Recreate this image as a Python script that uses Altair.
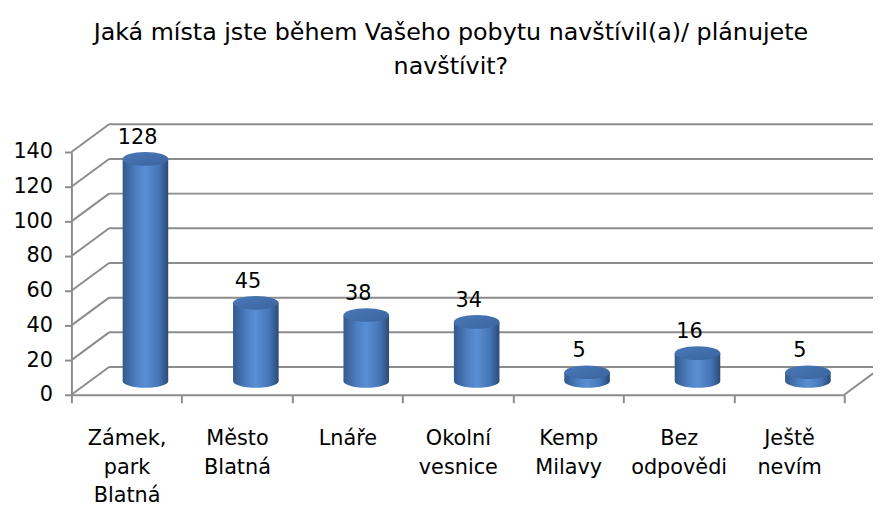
import altair as alt
import pandas as pd

# ---- data ----
categories = ["Zámek,|park|Blatná", "Město|Blatná", "Lnáře", "Okolní|vesnice",
              "Kemp|Milavy", "Bez|odpovědi", "Ještě|nevím"]
values = [128, 45, 38, 34, 5, 16, 5]
y_ticks = [0, 20, 40, 60, 80, 100, 120, 140]
title_lines = ["Jaká místa jste během Vašeho pobytu navštívil(a)/ plánujete", "navštívit?"]

df = pd.DataFrame({"cat": categories, "value": values, "zero": [0] * len(values)})
grid = pd.DataFrame({"v": y_ticks})
floor = pd.DataFrame({"v": [0]})

# ---- style ----
W, H = 780, 245
DX, DY = 38, -28          # depth of the 3D box
MX, MY = DX / 2, DY / 2   # bars sit in the middle of the depth
BW = 46
FONT = "DejaVu Sans"
GRID = "#8c8c8c"
ELL = "M-1,0A1,0.3,0,1,0,1,0A1,0.3,0,1,0,-1,0Z"

body = alt.Gradient(gradient="linear", x1=0, x2=1, y1=0, y2=0, stops=[
    alt.GradientStop(color="#34598d", offset=0),
    alt.GradientStop(color="#4d7fc2", offset=0.3),
    alt.GradientStop(color="#5a8fd5", offset=0.5),
    alt.GradientStop(color="#4474b4", offset=0.8),
    alt.GradientStop(color="#2b4a77", offset=1)])
cap = alt.Gradient(gradient="linear", x1=0, x2=1, y1=0, y2=1, stops=[
    alt.GradientStop(color="#4a78b8", offset=0),
    alt.GradientStop(color="#3a649e", offset=1)])

x_scale = alt.Scale(domain=categories, paddingInner=0, paddingOuter=0)
y_scale = alt.Scale(domain=[0, 140], nice=False, zero=True)

x_axis = alt.Axis(title=None, labelAngle=0,
                  labelExpr="isValid(datum.value) ? split(datum.value, '|') : ''",
                  labelLineHeight=29, labelPadding=25, labelBaseline="top",
                  labelFont=FONT, labelFontSize=21, labelColor="black",
                  tickBand="extent", tickSize=8, tickWidth=2, tickColor=GRID,
                  domainColor=GRID, domainWidth=2, grid=False)
y_axis = alt.Axis(title=None, values=y_ticks, labelFont=FONT, labelFontSize=21,
                  labelColor="black", labelPadding=12, tickSize=7, tickWidth=2,
                  tickColor=GRID, domainColor=GRID, domainWidth=2, grid=False)

X = alt.X("cat:N", scale=x_scale, axis=x_axis, sort=categories)

back = alt.Chart(grid).mark_rule(color=GRID, strokeWidth=2, xOffset=DX, x2Offset=DX,
                                 yOffset=DY, y2Offset=DY).encode(
    y=alt.Y("v:Q", scale=y_scale, axis=y_axis), x=alt.value(0), x2=alt.value(W))

diag = alt.Chart(grid).mark_rule(color=GRID, strokeWidth=2, x2Offset=DX, y2Offset=DY).encode(
    y=alt.Y("v:Q", scale=y_scale, axis=y_axis), y2="v:Q", x=alt.value(0), x2=alt.value(0))

floor_r = alt.Chart(floor).mark_rule(color=GRID, strokeWidth=2, x2Offset=DX, y2Offset=DY).encode(
    y=alt.Y("v:Q", scale=y_scale, axis=y_axis), y2="v:Q", x=alt.value(W), x2=alt.value(W))

base = alt.Chart(df)

bottom = base.mark_point(shape=ELL, size=BW * BW, filled=True, fill=body, opacity=1,
                         strokeWidth=0, xOffset=MX, yOffset=MY).encode(
    x=X, y=alt.Y("zero:Q", scale=y_scale, axis=y_axis))

bars = base.mark_bar(width=BW, fill=body, xOffset=MX, yOffset=MY, y2Offset=MY).encode(
    x=X, y=alt.Y("value:Q", scale=y_scale, axis=y_axis, stack=None), y2="zero:Q")

tops = base.mark_point(shape=ELL, size=BW * BW, filled=True, fill=cap, opacity=1,
                       strokeWidth=0, xOffset=MX, yOffset=MY).encode(
    x=X, y=alt.Y("value:Q", scale=y_scale, axis=y_axis))

labels = base.mark_text(font=FONT, fontSize=21, color="black", baseline="middle",
                        xOffset=11, yOffset=-35).encode(
    x=X, y=alt.Y("value:Q", scale=y_scale, axis=y_axis), text="value:Q")

chart = alt.layer(back, diag, floor_r, bottom, bars, tops, labels).properties(
    width=W, height=H,
    title=alt.TitleParams(title_lines, font=FONT, fontSize=24, fontWeight="normal",
                          lineHeight=34, anchor="middle", frame="group", dx=-7,
                          offset=45, color="black"),
    autosize=alt.AutoSizeParams(type="none"),
    padding={"left": 64, "top": 143, "right": 29, "bottom": 117},
).configure(background="white", view=alt.ViewConfig(stroke=None))

chart.save("out.html", embed_options={"renderer": "svg", "actions": False})
